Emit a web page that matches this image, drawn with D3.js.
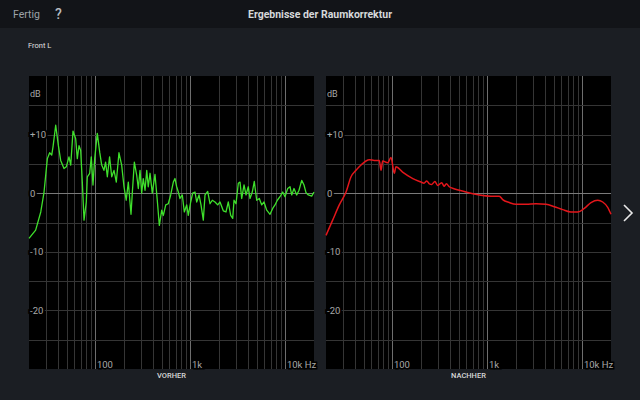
<!DOCTYPE html>
<html><head><meta charset="utf-8">
<script src="https://cdn.jsdelivr.net/npm/d3@7"></script>
<style>
html,body{margin:0;padding:0;background:#1b1e23;}
svg{display:block;font-family:Roboto,"Noto Sans",sans-serif;}
</style></head>
<body>
<svg id="c" width="640" height="400"></svg>
<script>
// ---- data ----
const vorherFreq = [20,23.5,26.6,28.8,31.2,33.0,34.7,35.8,38.2,40.7,43.1,46.7,49.4,52.7,55.0,58.1,62.0,64.5,67.2,70.0,72.8,75.9,80.2,82.2,87.1,90.5,94.3,98.3,104.7,111,116.5,123,128,133.5,141,148.5,157,166,177,189,200,211,222,237,245,257,272,283,295,307,319,333,347,360,376,397,424,448,471,499,519,550,585,620,661,688,717,746,777,822,863,914,950,1007,1057,1118,1165,1232,1293,1367,1425,1521,1608,1700,1815,1938,2049,2220,2370,2506,2656,2788,2878,3020,3194,3328,3468,3668,3848,4068,4240,4482,4706,4988,5312,5632,5954,6356,6888,7352,7772,8220,8772,9366,9902,10574,11180,11652,12320,13152,13906,14846,15696,16474,17420,18916,20000];
const vorherDb = [-7.7,-6.3,-3.2,0.2,5.9,6.9,6.5,7.9,11.6,8.2,5.6,4.2,4.5,6.2,4.8,10.6,9.3,5.9,8.1,7.3,1.9,-4.6,-1.5,2.8,3.4,6.2,1.4,5.9,10.2,7.0,4.8,3.9,5.3,2.8,6.2,2.8,3.9,1.9,6.9,4.8,1.1,-1.2,1.9,-3.6,0.2,5.3,3.1,0.8,3.9,0,2.5,0.5,3.9,1.1,3.4,0,3.2,-1.2,-5.5,-2.9,-3.8,-2.0,-1.8,-0.3,1.9,2.5,1.1,0.2,-0.9,-0.3,-3.2,-2.0,-3.8,-1.5,0,0.2,-1.5,-0.3,-2.0,-4.6,-0.3,0.3,-1.8,-1.2,-1.5,-2.0,-1.5,-3.0,-3.2,-1.5,-3.8,-4.3,-1.2,-1.8,1.7,1.9,-0.9,1.4,-0.3,1.1,-0.9,0.2,2.0,-1.2,-0.9,-2.0,-1.5,-2.9,-3.6,-2.6,-2.0,-1.2,-0.6,0.2,-0.6,0.8,1.1,-0.3,0.8,-0.3,0.5,2.2,1.4,0.1,-0.3,-0.5,0.2];

const nachherFreq = [20,23.5,27.6,32.5,36.7,41.4,46.7,52.7,57.1,64.5,72.8,75.9,79.0,89.2,96.7,104.7,109,128,164,200,215,230,245,260,280,300,330,350,370,397,420,506,595,822,1091,1335,1449,1700,2000,2548,3248,4138,5062,6202,7586,8924,10472,12320,14488,16354,18466,20000];
const nachherDb = [-7.2,-4.6,-2.0,0.2,2.8,3.9,4.8,5.5,5.7,5.6,5.6,3.9,5.5,5.2,6.1,3.4,4.5,3.6,2.5,1.9,1.7,2.1,1.6,1.5,2.0,1.3,1.8,1.2,1.6,1.1,0.9,0.5,0.2,-0.3,-0.5,-0.5,-1.1,-1.6,-1.9,-1.9,-1.8,-1.9,-2.3,-2.8,-3.2,-3.2,-2.6,-1.6,-1.2,-1.5,-2.4,-3.6];

const yTickVals = [10,0,-10,-20];
const yTickLabels = ["+10","0","-10","-20"];
const xTickVals = [100,1000,10000];
const xTickLabels = ["100","1k","10k Hz"];
const panelTitles = ["VORHER","NACHHER"];

// ---- drawing ----
const svg = d3.select("#c");
svg.append("rect").attr("x",0).attr("y",0).attr("width",640).attr("height",400).attr("fill","#1b1e23");
svg.append("rect").attr("x",0).attr("y",0).attr("width",640).attr("height",28).attr("fill","#121418");

svg.append("text").attr("x",13).attr("y",18).attr("fill","#9ea3a8").attr("font-size",10.5).text("Fertig");
svg.append("text").attr("x",55).attr("y",19).attr("fill","#b8bcc0").attr("font-size",14).attr("font-weight",500).text("?");
svg.append("text").attr("x",320).attr("y",18).attr("text-anchor","middle").attr("fill","#d6d8da").attr("font-size",10.5).attr("font-weight",700).text("Ergebnisse der Raumkorrektur");
svg.append("text").attr("x",28).attr("y",48).attr("fill","#e0e0e0").attr("font-size",7.5).text("Front L");

// chevron
svg.append("path").attr("d","M624,205 L632,213 L624,221").attr("fill","none").attr("stroke","#e8e8e8").attr("stroke-width",1.6);

const panels = [
  {x0:29,x1:314,freq:vorherFreq,db:vorherDb,color:"#3fe02c",w:1.3,curve:d3.curveLinear,title:panelTitles[0]},
  {x0:326,x1:611,freq:nachherFreq,db:nachherDb,color:"#e3161b",w:1.5,curve:d3.curveMonotoneX,title:panelTitles[1]}
];
const y0 = 76, y1 = 369;
const y = d3.scaleLinear().domain([-30,20]).range([y1,y0]);

panels.forEach(p=>{
  const x = d3.scaleLog().domain([20,20000]).range([p.x0,p.x1]);
  const g = svg.append("g");
  g.append("rect").attr("x",p.x0).attr("y",y0).attr("width",p.x1-p.x0).attr("height",y1-y0).attr("fill","#000");
  // vertical grid
  const vt = x.ticks().filter(t=>t>20 && t<20000);
  g.selectAll("line.v").data(vt).enter().append("line")
    .attr("x1",d=>Math.round(x(d))+0.5).attr("x2",d=>Math.round(x(d))+0.5)
    .attr("y1",y0).attr("y2",y1)
    .attr("stroke",d=>xTickVals.includes(d)?"#6e6e6e":"#353535").attr("stroke-width",1);
  // horizontal grid
  const ht = d3.range(-25,20,5);
  g.selectAll("line.h").data(ht).enter().append("line")
    .attr("x1",p.x0).attr("x2",p.x1)
    .attr("y1",d=>Math.round(y(d))+0.5).attr("y2",d=>Math.round(y(d))+0.5)
    .attr("stroke",d=>d===0?"#7a7a7a":"#353535").attr("stroke-width",1);
  // curve
  const data = p.freq.map((f,i)=>[f,p.db[i]]);
  const line = d3.line().x(d=>x(d[0])).y(d=>y(d[1])).curve(p.curve);
  g.append("path").datum(data).attr("d",line).attr("fill","none").attr("stroke",p.color).attr("stroke-width",p.w).attr("stroke-linejoin","round");
  // y labels
  g.append("text").attr("x",p.x0+1).attr("y",97).attr("fill","#a8a8a8").attr("font-size",9).text("dB");
  yTickVals.forEach((v,i)=>{
    g.append("text").attr("x",p.x0+1).attr("y",y(v)+3.3).attr("fill","#a8a8a8").attr("font-size",9.5)
      .attr("stroke","#000").attr("stroke-width",4).attr("paint-order","stroke").text(yTickLabels[i]);
  });
  // x labels
  xTickVals.forEach((v,i)=>{
    g.append("text").attr("x",x(v)+1.5).attr("y",368).attr("fill","#a8a8a8").attr("font-size",9.5)
      .attr("stroke","#000").attr("stroke-width",3).attr("paint-order","stroke").text(xTickLabels[i]);
  });
  g.append("text").attr("x",(p.x0+p.x1)/2).attr("y",377.5).attr("text-anchor","middle").attr("fill","#d8d8d8").attr("font-size",7.5).attr("font-weight",500).text(p.title);
});
</script>
</body></html>
